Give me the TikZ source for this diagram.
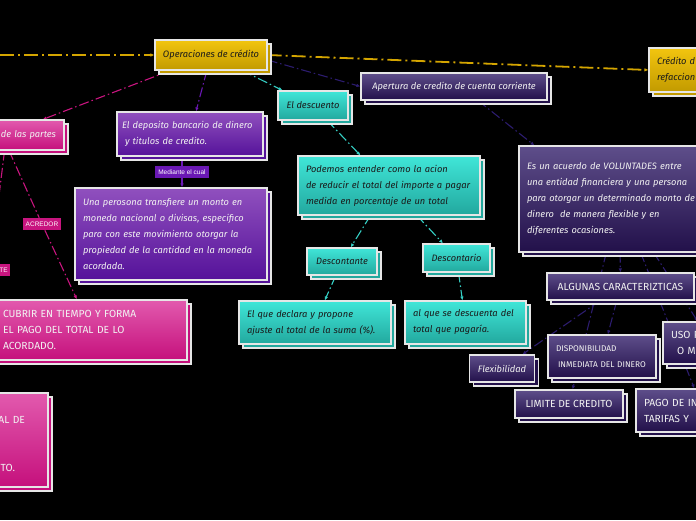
\documentclass[tikz,border=0pt]{standalone}
\usepackage{fontspec}
\setmainfont{Fira Sans}
\setsansfont{Liberation Sans}
\usepackage{tikz}
\usetikzlibrary{arrows.meta,calc,positioning}
\definecolor{goldtop}{HTML}{F2C50F}
\definecolor{goldbot}{HTML}{C29A00}
\definecolor{pinktop}{HTML}{E25AAE}
\definecolor{pinkbot}{HTML}{C5107C}
\definecolor{purptop}{HTML}{9050BE}
\definecolor{purpbot}{HTML}{55129A}
\definecolor{tealtop}{HTML}{40E6D8}
\definecolor{tealbot}{HTML}{22A89E}
\definecolor{dusktop}{HTML}{5E4E8A}
\definecolor{duskbot}{HTML}{22104A}
\definecolor{boxedge}{HTML}{E6E6E6}
\definecolor{inkdark}{HTML}{1A1A1A}
\definecolor{inklight}{HTML}{F2F2F2}
\definecolor{goldline}{HTML}{D4A500}
\definecolor{pinkline}{HTML}{C8157F}
\definecolor{purpline}{HTML}{6A18B4}
\definecolor{tealline}{HTML}{35CFC4}
\definecolor{duskline}{HTML}{2C1C6E}
\pgfdeclarelayer{background}
\pgfsetlayers{background,main}
\begin{document}
\begin{tikzpicture}[x=1pt,y=-1pt,>={Latex[length=4pt,width=3.5pt]},
  card/.style 2 args={draw=boxedge,line width=1.1pt,top color=#1,bottom color=#2,
    preaction={draw=boxedge,line width=1.1pt,fill=#2,transform canvas={shift={(4,4)}}},
    inner xsep=8pt,inner ysep=2pt,font=\itshape\fontsize{9.3}{16}\selectfont},
  goldbox/.style={card={goldtop}{goldbot},text=inkdark},
  pinkbox/.style={card={pinktop}{pinkbot},text=inklight},
  purpbox/.style={card={purptop}{purpbot},text=inklight},
  tealbox/.style={card={tealtop}{tealbot},text=inkdark},
  duskbox/.style={card={dusktop}{duskbot},text=inklight},
  capsfont/.style={font=\fontsize{10.3}{16}\selectfont},
  tag/.style={fill=#1,text=white,font=\sffamily\fontsize{6.5}{7}\selectfont,inner xsep=3pt,inner ysep=0pt,minimum height=12pt},
  link/.style={draw=#1,line width=1.1pt,dash pattern=on 10pt off 3pt on 1.5pt off 3pt,->},
  goldlink/.style={link=goldline,line width=1.8pt,dash pattern=on 14pt off 4pt on 2pt off 4pt}]
\useasboundingbox (0,0) rectangle (696,520);
\node[goldbox,minimum width=112pt,minimum height=30pt] (oper) at (211,55) {Operaciones de crédito};
\node[goldbox,text width=105pt,align=left,minimum height=44pt] (cred) at (709.5,70) {Crédito d\\refaccion};
\node[pinkbox,text width=108pt,align=right,minimum height=30pt] (partes) at (2,135) {de las partes};
\node[purpbox,text width=136pt,inner xsep=5pt,align=left,minimum height=44pt] (deposito) at (190,134) {El deposito bancario de dinero\\\hspace*{3pt}y titulos de credito.};
\node[purpbox,text width=176pt,align=left,minimum height=92pt] (transfiere) at (171,234) {Una perosona transfiere un monto en\\moneda nacional o divisas, especifico\\para con este movimiento otorgar la\\propiedad de la cantidad en la moneda\\acordada.};
\node[tealbox,minimum width=70pt,minimum height=29pt] (descuento) at (313,105.5) {El descuento};
\node[duskbox,minimum width=186pt,minimum height=27pt] (apertura) at (454,86.5) {Apertura de credito de cuenta corriente};
\node[tealbox,text width=166pt,align=left,minimum height=59pt] (definicion) at (389,185.5) {Podemos entender como la acion\\de reducir el total del importe a pagar\\medida en porcentaje de un total};
\node[tealbox,minimum width=70pt,minimum height=27pt] (descontante) at (342,261.5) {Descontante};
\node[tealbox,minimum width=67pt,minimum height=28pt] (descontario) at (456.5,258) {Descontario};
\node[tealbox,text width=136pt,align=left,minimum height=43pt] (declara) at (315,322.5) {El que declara y propone\\ajuste al total de la suma (\%).};
\node[tealbox,text width=105pt,align=left,minimum height=43pt] (descuenta) at (465.5,322.5) {al que se descuenta del\\total que pagaría.};
\node[duskbox,text width=185pt,align=left,minimum height=106pt] (acuerdo) at (619.5,199) {Es un acuerdo de VOLUNTADES entre\\una entidad financiera y una persona\\para otorgar un determinado monto de\\dinero\ \ de manera flexible y en\\diferentes ocasiones.};
\node[duskbox,capsfont,minimum width=147pt,minimum height=27pt] (algunas) at (620.5,286.5) {ALGUNAS CARACTERIZTICAS};
\node[duskbox,font=\fontsize{8.3}{16}\selectfont,text width=92pt,align=left,minimum height=43pt] (disponibilidad) at (602,356.5) {DISPONIBILIDAD\\\hspace*{2pt}INMEDIATA DEL DINERO};
\node[duskbox,capsfont,text width=81pt,align=left,minimum height=42pt] (uso) at (711.5,343) {USO P\\\hspace*{6pt}O M};
\node[duskbox,minimum width=64pt,minimum height=27pt] (flexibilidad) at (502,368.5) {Flexibilidad};
\node[duskbox,capsfont,minimum width=108pt,minimum height=28pt] (limite) at (569,404) {LIMITE DE CREDITO};
\node[duskbox,capsfont,text width=118pt,align=left,minimum height=43pt] (pago) at (703,410.5) {PAGO DE IN\\TARIFAS Y};
\node[pinkbox,capsfont,text width=176pt,align=left,minimum height=60pt] (cubrir) at (91,330) {CUBRIR EN TIEMPO Y FORMA\\EL PAGO DEL TOTAL DE LO\\ACORDADO.};
\node[pinkbox,capsfont,text width=82pt,align=right,minimum height=94pt] (pagototal) at (-1,440) {\mbox{}\\AL DE\kern15pt\\\mbox{}\\\mbox{}\\TO.\kern25pt};
\node[tag=purpline] (mediante) at (182,172) {Mediante el cual};
\node[tag=pinkline] (acredor) at (42,224) {ACREDOR};
\node[tag=pinkline,text width=36pt,align=right,inner xsep=2pt,anchor=east] (te) at (10,270) {TE};
\coordinate (leftin) at (0,55);
\begin{pgfonlayer}{background}
\fill[black] (0,0) rectangle (696,520);
\draw[goldlink] (leftin) -- (oper.west);
\draw[goldlink] (oper.east) -- (cred.west);
\draw[link=pinkline] (oper) -- (partes);
\draw[link=purpline] (oper) -- (deposito);
\draw[link=tealline] (oper) -- (descuento);
\draw[link=duskline] ([yshift=-5pt]oper.east) -- (apertura.west);
\draw[link=purpline,-] (deposito.south -| mediante) -- (mediante);
\draw[link=purpline] (mediante) -- (mediante |- transfiere.north);
\draw[link=pinkline,-] (partes) -- (acredor);
\draw[link=pinkline] (acredor) -- (cubrir);
\draw[link=pinkline,-] ([xshift=-60pt]partes.south east) -- (te);
\draw[link=pinkline] (te) -- (pagototal);
\draw[link=tealline] (descuento) -- (definicion);
\draw[link=tealline] (definicion) -- (descontante);
\draw[link=tealline] (definicion) -- (descontario);
\draw[link=tealline] (descontante) -- (declara);
\draw[link=tealline] (descontario) -- (descuenta);
\draw[link=duskline] ([xshift=24pt]apertura.south) -- ([xshift=16pt]acuerdo.north west);
\draw[link=duskline] (acuerdo) -- (algunas);
\draw[link=duskline] (algunas) -- (flexibilidad);
\draw[link=duskline] (algunas) -- (disponibilidad);
\draw[link=duskline] (acuerdo) -- (limite);
\draw[link=duskline] (acuerdo) -- (uso);
\draw[link=duskline] (acuerdo) -- (pago);
\end{pgfonlayer}
\end{tikzpicture}
\end{document}
